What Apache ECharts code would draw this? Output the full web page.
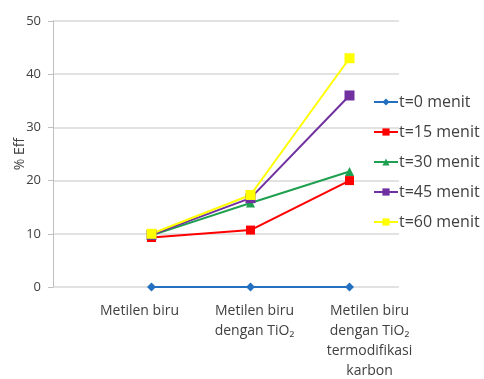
<!DOCTYPE html>
<html>
<head>
<meta charset="utf-8">
<script src="https://cdn.jsdelivr.net/npm/echarts@6/dist/echarts.min.js"></script>
<style>
  html, body { margin: 0; padding: 0; background: #fff; }
  #main { width: 484px; height: 379px; }
</style>
</head>
<body>
<div id="main"></div>
<script>
var categories = ['Metilen biru', 'Metilen biru\ndengan TiO₂', 'Metilen biru\ndengan TiO₂\ntermodifikasi\nkarbon'];
var seriesNames = ['t=0 menit', 't=15 menit', 't=30 menit', 't=45 menit', 't=60 menit'];
var t0 = [0, 0, 0];
var t15 = [9.3, 10.7, 20.0];
var t30 = [9.7, 15.8, 21.7];
var t45 = [9.8, 16.7, 36.0];
var t60 = [10.0, 17.3, 43.0];
var yTicks = [0, 10, 20, 30, 40, 50];

var colors = ['#2470c0', '#ff0000', '#1ea050', '#7030a0', '#ffff00'];
var symbols = ['diamond', 'rect', 'triangle', 'rect', 'rect'];
var sizes = [9, 9, 9, 10, 10];
var values = [t0, t15, t30, t45, t60];
var font = '"Open Sans", sans-serif';

var chart = echarts.init(document.getElementById('main'));

var series = values.map(function (d, i) {
  return {
    name: seriesNames[i],
    type: 'line',
    xAxisIndex: 1,
    yAxisIndex: 1,
    data: d,
    symbol: symbols[i],
    symbolSize: sizes[i],
    color: colors[i],
    lineStyle: { width: 2, color: colors[i] },
    itemStyle: { color: colors[i] }
  };
});

chart.setOption({
  animation: false,
  textStyle: { fontFamily: font },
  legend: {
    orient: 'vertical',
    left: 368,
    top: 89,
    itemWidth: 24,
    itemHeight: 9,
    itemGap: 14,
    textStyle: { fontSize: 16, color: '#404040', fontFamily: font, padding: [0, 0, 0, -4] },
    data: seriesNames
  },
  grid: [
    { left: 53, right: 85, top: 21, bottom: 92, outerBoundsMode: 'none' },
    { left: 102, right: 85, top: 21, bottom: 92, outerBoundsMode: 'none' },
    { left: 82, right: 57, top: 21, bottom: 92, outerBoundsMode: 'none' }
  ],
  xAxis: [
    { type: 'category', gridIndex: 0, data: categories, show: false },
    { type: 'category', gridIndex: 1, data: categories, show: false, boundaryGap: true },
    {
      type: 'category', gridIndex: 2, data: categories,
      axisLine: { show: false }, axisTick: { show: false },
      axisLabel: { color: '#404040', fontSize: 14, lineHeight: 20, margin: 14, interval: 0, fontFamily: font }
    }
  ],
  yAxis: [
    {
      type: 'value', gridIndex: 0, min: yTicks[0], max: yTicks[yTicks.length - 1], interval: 10,
      name: '% Eff', nameLocation: 'middle', nameGap: 26, nameRotate: 90, nameMoveOverlap: false,
      nameTextStyle: { color: '#404040', fontSize: 14, fontFamily: font },
      axisLine: { show: true, lineStyle: { color: '#bfbfbf' } },
      axisTick: { show: true, length: 5, lineStyle: { color: '#bfbfbf' } },
      axisLabel: { color: '#404040', fontSize: 13, margin: 12, fontFamily: font },
      splitLine: { lineStyle: { color: '#d9d9d9', width: 1.5 } }
    },
    { type: 'value', gridIndex: 1, min: 0, max: 50, show: false, splitLine: { show: false } },
    { type: 'value', gridIndex: 2, min: 0, max: 50, show: false, splitLine: { show: false } }
  ],
  series: series
});
</script>
</body>
</html>
